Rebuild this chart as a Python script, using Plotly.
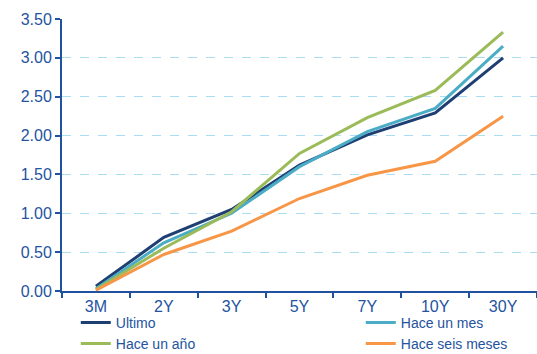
import plotly.graph_objects as go

categories = ["3M", "2Y", "3Y", "5Y", "7Y", "10Y", "30Y"]
ultimo = [0.06, 0.69, 1.05, 1.62, 2.01, 2.29, 3.00]
hace_un_mes = [0.03, 0.62, 1.00, 1.60, 2.05, 2.35, 3.15]
hace_un_ano = [0.02, 0.55, 1.02, 1.77, 2.23, 2.58, 3.33]
hace_seis_meses = [0.01, 0.47, 0.77, 1.19, 1.49, 1.67, 2.25]
y_ticks = [0, 0.5, 1.0, 1.5, 2.0, 2.5, 3.0, 3.5]

series = [
    ("Ultimo", ultimo, "#1F3F73", "legend"),
    ("Hace un mes", hace_un_mes, "#4BACC6", "legend2"),
    ("Hace un año", hace_un_ano, "#9BBB59", "legend"),
    ("Hace seis meses", hace_seis_meses, "#F79646", "legend2"),
]

fig = go.Figure()
for name, vals, color, leg in series:
    fig.add_trace(go.Scatter(x=categories, y=vals, name=name, mode="lines",
                             legend=leg, line=dict(color=color, width=3)))

axis_color = "#2152A0"
font_color = "#2453A0"
leg_common = dict(orientation="v", y=-0.058, xanchor="left", yanchor="top",
                  tracegroupgap=0, itemwidth=30,
                  font=dict(size=14, color=font_color),
                  bgcolor="rgba(0,0,0,0)", borderwidth=0)
fig.update_layout(
    width=537, height=354,
    margin=dict(l=62, r=0, t=19, b=63, autoexpand=False),
    paper_bgcolor="white", plot_bgcolor="white",
    font=dict(family="Liberation Sans, Arial", size=16, color=font_color),
    showlegend=True,
    legend=dict(x=0.029, **leg_common),
    legend2=dict(x=0.629, **leg_common),
    xaxis=dict(type="category", range=[-0.5, 6.5], showline=True, linecolor=axis_color,
               linewidth=2, ticks="outside", tickson="boundaries", ticklen=5,
               tickcolor=axis_color, tickwidth=2, showgrid=False,
               tickfont=dict(size=16, color=font_color)),
    yaxis=dict(range=[0, 3.5], tickvals=y_ticks, tickformat=".2f", showline=True,
               linecolor=axis_color, linewidth=2, ticks="outside", ticklen=5,
               tickcolor=axis_color, tickwidth=2, showgrid=True,
               gridcolor="#A9DDF3", griddash="dash", gridwidth=1,
               zeroline=False, tickfont=dict(size=16, color=font_color)),
)
fig.write_html("out.html")
